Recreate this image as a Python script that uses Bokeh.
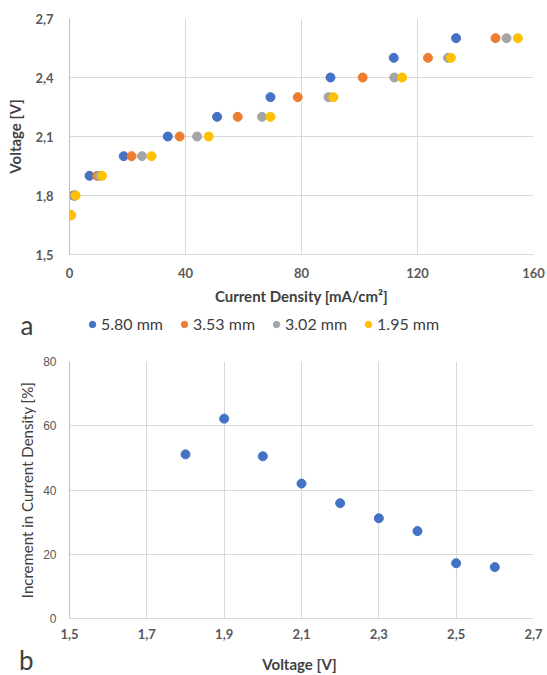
from bokeh.plotting import figure
from bokeh.layouts import column
from bokeh.models import (FixedTicker, CustomJSTickFormatter, Legend, LegendItem,
                          Label, Range1d)
from bokeh.embed import file_html
from bokeh.resources import INLINE

# ---- data (a) ----
voltage = [1.7, 1.8, 1.9, 2.0, 2.1, 2.2, 2.3, 2.4, 2.5, 2.6]
cd_5_80 = [0.3, 1.4, 6.9, 18.7, 33.9, 50.9, 69.3, 90.0, 111.8, 133.3]
cd_3_53 = [0.4, 1.8, 9.5, 21.4, 38.0, 58.0, 78.7, 101.1, 123.6, 146.9]
cd_3_02 = [0.5, 1.9, 10.3, 25.0, 44.0, 66.4, 89.3, 112.0, 130.5, 150.7]
cd_1_95 = [0.6, 2.1, 11.2, 28.3, 48.0, 69.3, 91.0, 114.7, 131.5, 154.6]
series_labels = ["5.80 mm", "3.53 mm", "3.02 mm", "1.95 mm"]
series_colors = ["#4472C4", "#ED7D31", "#A5A5A5", "#FFC000"]

# ---- data (b) ----
inc_voltage = [1.8, 1.9, 2.0, 2.1, 2.2, 2.3, 2.4, 2.5, 2.6]
increment = [51.1, 62.2, 50.5, 42.0, 35.9, 31.2, 27.2, 17.2, 16.0]

x_ticks_a = [0, 40, 80, 120, 160]
y_ticks_a = [1.5, 1.8, 2.1, 2.4, 2.7]
x_ticks_b = [1.5, 1.7, 1.9, 2.1, 2.3, 2.5, 2.7]
y_ticks_b = [0, 20, 40, 60, 80]

FONT = "Lato"
GRID = "#D9D9D9"
TXT = "#595959"
DARK = "#404040"
comma_fmt = CustomJSTickFormatter(code="return tick.toFixed(1).replace('.', ',')")


def style_axes(p, xbold=True, ybold=True):
    for ax, bold in ((p.xaxis[0], xbold), (p.yaxis[0], ybold)):
        ax.major_tick_in = 0
        ax.major_tick_out = 0
        ax.minor_tick_in = 0
        ax.minor_tick_out = 0
        ax.major_label_text_font = FONT
        ax.major_label_text_font_size = "13px"
        ax.major_label_text_font_style = "bold" if bold else "normal"
        ax.major_label_text_color = TXT
        ax.axis_label_text_font = FONT
        ax.axis_label_text_color = DARK
    p.xaxis.axis_line_color = GRID
    p.yaxis.axis_line_color = "#BFBFBF"
    p.xgrid.grid_line_color = GRID
    p.ygrid.grid_line_color = GRID
    p.outline_line_color = None


def letter_strip(height, letter, standoff, border_bottom):
    """A thin figure with no frame decoration; its (empty) left axis carries the panel letter."""
    s = figure(width=547, height=height, output_backend="svg", toolbar_location=None,
               x_axis_type=None, x_range=Range1d(0, 1), y_range=Range1d(0, 1),
               min_border=0, min_border_left=69, min_border_right=14,
               min_border_top=0, min_border_bottom=border_bottom)
    s.grid.visible = False
    s.outline_line_color = None
    ax = s.yaxis[0]
    ax.ticker = FixedTicker(ticks=[])
    ax.axis_line_color = None
    ax.major_tick_in = 0
    ax.major_tick_out = 0
    ax.minor_tick_in = 0
    ax.minor_tick_out = 0
    ax.axis_label = letter
    ax.axis_label_orientation = "horizontal"
    ax.axis_label_standoff = standoff
    ax.axis_label_text_font = FONT
    ax.axis_label_text_font_size = "26px"
    ax.axis_label_text_font_style = "normal"
    ax.axis_label_text_color = DARK
    return s


# ---------- chart a ----------
pa = figure(width=547, height=308, output_backend="svg", toolbar_location=None,
            x_range=Range1d(0, 160), y_range=Range1d(1.5, 2.7),
            min_border_left=69, min_border_right=14, min_border_top=18,
            min_border_bottom=54)
pa.xaxis.ticker = FixedTicker(ticks=x_ticks_a)
pa.yaxis.ticker = FixedTicker(ticks=y_ticks_a)
pa.yaxis.formatter = comma_fmt
style_axes(pa)
pa.xaxis.major_label_standoff = 13
pa.yaxis.major_label_standoff = 16
pa.xaxis.axis_label = "Current Density [mA/cm²]"
pa.yaxis.axis_label = "Voltage [V]"
pa.xaxis.axis_label_text_font_size = "15px"
pa.yaxis.axis_label_text_font_size = "15px"
pa.xaxis.axis_label_text_font_style = "bold"
pa.yaxis.axis_label_text_font_style = "bold"
pa.xaxis.axis_label_standoff = 6
pa.yaxis.axis_label_standoff = 8

for vals, col in zip([cd_5_80, cd_3_53, cd_3_02, cd_1_95], series_colors):
    pa.scatter(vals, voltage, size=9, fill_color=col, line_color=col)

# ---------- legend strip with panel letter "a" ----------
pm = letter_strip(32, "a", 36, 0)
items = []
for vals, lab, col in zip([cd_5_80, cd_3_53, cd_3_02, cd_1_95], series_labels, series_colors):
    # legend proxies: same series, outside this strip's (0..1) voltage window
    r = pm.scatter(vals, voltage, size=9, fill_color=col, line_color=col)
    items.append(LegendItem(label=lab, renderers=[r]))
legend = Legend(items=items, orientation="horizontal", location=(15, 7),
                padding=0, margin=0, spacing=13, glyph_width=16, glyph_height=18,
                label_height=18, label_standoff=1, border_line_color=None,
                background_fill_alpha=0, label_text_font=FONT,
                label_text_font_size="16px", label_text_color=DARK)
pm.add_layout(legend)

# ---------- chart b ----------
pb = figure(width=547, height=304, output_backend="svg", toolbar_location=None,
            x_range=Range1d(1.5, 2.7), y_range=Range1d(0, 80),
            min_border_left=65, min_border_right=14, min_border_top=21,
            min_border_bottom=26)
pb.xaxis.ticker = FixedTicker(ticks=x_ticks_b)
pb.yaxis.ticker = FixedTicker(ticks=y_ticks_b)
pb.xaxis.formatter = comma_fmt
style_axes(pb, xbold=True, ybold=False)
pb.yaxis.major_label_text_font = "Liberation Sans"
pb.yaxis.major_label_text_font_size = "12px"
pb.xaxis.major_label_standoff = 10
pb.yaxis.major_label_standoff = 13
pb.yaxis.axis_label = "Increment in Current Density [%]"
pb.yaxis.axis_label_text_font_size = "15px"
pb.yaxis.axis_label_text_font_style = "normal"
pb.yaxis.axis_label_standoff = 4

pb.scatter(inc_voltage, increment, size=9, fill_color="#4472C4", line_color="#4472C4")

# ---------- x-axis title strip with panel letter "b" ----------
pf = letter_strip(31, "b", 36, 0)
pf.add_layout(Label(x=299, y=19, x_units="canvas", y_units="canvas", text="Voltage [V]",
                    text_font=FONT, text_font_size="15px", text_font_style="bold",
                    text_color=DARK, text_align="center", text_baseline="middle"))

layout = column(pa, pm, pb, pf, spacing=0)
open("out.html", "w").write(file_html(layout, INLINE))
